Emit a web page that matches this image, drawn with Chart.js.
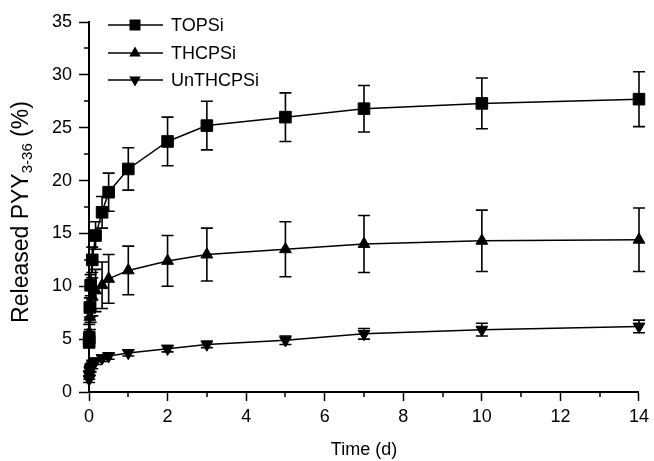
<!DOCTYPE html>
<html>
<head>
<meta charset="utf-8">
<script src="https://cdn.jsdelivr.net/npm/chart.js@4.4.0/dist/chart.umd.min.js"></script>
<style>
  html, body { margin: 0; padding: 0; background: #fff; }
</style>
</head>
<body>
<canvas id="chartContainer" width="654" height="461"></canvas>
<script>
"use strict";

// 1: data
// release time in days
let times = [0.003, 0.007, 0.021, 0.042, 0.083, 0.167, 0.333, 0.5, 1, 2, 3, 5, 7, 10, 14];

let topsi     = [4.7, 5.1, 8.0, 10.1, 12.5, 14.8, 17.0, 18.9, 21.1, 23.7, 25.2, 26.0, 26.8, 27.3, 27.7];
let topsiErr  = [0.5, 0.6, 0.9, 1.0, 1.2, 1.3, 1.5, 1.8, 2.0, 2.3, 2.3, 2.3, 2.2, 2.4, 2.6];

let thcpsi    = [4.9, 5.6, 7.1, 8.1, 9.0, 9.6, 10.1, 10.7, 11.5, 12.4, 13.0, 13.5, 14.0, 14.3, 14.4];
let thcpsiErr = [0.6, 0.8, 1.2, 1.5, 1.8, 2.0, 2.2, 2.3, 2.3, 2.4, 2.5, 2.6, 2.7, 2.9, 3.0];

let unthcpsi    = [1.2, 1.6, 2.0, 2.3, 2.6, 2.9, 3.2, 3.4, 3.7, 4.1, 4.5, 4.9, 5.5, 5.9, 6.2];
let unthcpsiErr = [0.3, 0.4, 0.4, 0.4, 0.4, 0.3, 0.3, 0.3, 0.3, 0.3, 0.3, 0.4, 0.5, 0.6, 0.6];

let xTicks = [0, 2, 4, 6, 8, 10, 12, 14];
let yTicks = [0, 5, 10, 15, 20, 25, 30, 35];

const FONT = "'Liberation Sans', Arial, sans-serif";

// 2: prepare data for chart
function toPoints(values) {
  return values.map((v, i) => ({ x: times[i], y: v }));
}

function drawMarker(ctx, style, x, y) {
  ctx.beginPath();
  if (style === 'square') {
    ctx.rect(x - 5.5, y - 5.5, 11, 11);
  } else if (style === 'up') {
    ctx.moveTo(x, y - 6.5);
    ctx.lineTo(x + 5.8, y + 3.5);
    ctx.lineTo(x - 5.8, y + 3.5);
    ctx.closePath();
  } else {
    ctx.moveTo(x, y + 6.5);
    ctx.lineTo(x + 5.8, y - 3.5);
    ctx.lineTo(x - 5.8, y - 3.5);
    ctx.closePath();
  }
  ctx.fill();
}

// error bars, minor ticks, legend and y title
const extras = {
  id: 'extras',
  beforeDatasetsDraw(chart) {
    const ctx = chart.ctx;
    const xs = chart.scales.x, ys = chart.scales.y;
    ctx.save();
    ctx.strokeStyle = '#000';
    ctx.lineWidth = 1.6;
    chart.data.datasets.forEach(ds => {
      ds.errors.forEach((e, i) => {
        const px = xs.getPixelForValue(times[i]);
        const top = ys.getPixelForValue(ds.data[i].y + e);
        const bot = ys.getPixelForValue(ds.data[i].y - e);
        ctx.beginPath();
        ctx.moveTo(px, top); ctx.lineTo(px, bot);
        ctx.moveTo(px - 6, top); ctx.lineTo(px + 6, top);
        ctx.moveTo(px - 6, bot); ctx.lineTo(px + 6, bot);
        ctx.stroke();
      });
    });
    ctx.restore();
  },
  afterDraw(chart) {
    const ctx = chart.ctx;
    const xs = chart.scales.x, ys = chart.scales.y;
    const area = chart.chartArea;
    ctx.save();
    ctx.strokeStyle = '#000';
    ctx.fillStyle = '#000';
    ctx.lineWidth = 1.5;
    // minor ticks
    ctx.beginPath();
    for (let v = 1; v < 14; v += 2) {
      const px = Math.round(xs.getPixelForValue(v));
      ctx.moveTo(px, area.bottom); ctx.lineTo(px, area.bottom + 5);
    }
    for (let v = 2.5; v < 35; v += 5) {
      const py = Math.round(ys.getPixelForValue(v));
      ctx.moveTo(area.left, py); ctx.lineTo(area.left - 5, py);
    }
    ctx.stroke();

    // legend
    const rows = [25, 53, 80];
    chart.data.datasets.forEach((ds, i) => {
      ctx.lineWidth = 1.5;
      ctx.beginPath();
      ctx.moveTo(108, rows[i]); ctx.lineTo(163, rows[i]);
      ctx.stroke();
      drawMarker(ctx, ds.marker, 135, rows[i]);
      ctx.font = '18px ' + FONT;
      ctx.textBaseline = 'middle';
      ctx.textAlign = 'left';
      ctx.fillText(ds.label, 171, rows[i] + 1);
    });

    // y axis title with subscript
    ctx.translate(22, 212);
    ctx.rotate(-Math.PI / 2);
    const parts = [
      { t: 'Released PYY', f: '23px ' + FONT, dy: 0 },
      { t: '3-36', f: '15px ' + FONT, dy: 6 },
      { t: ' (%)', f: '23px ' + FONT, dy: 0 }
    ];
    let total = 0;
    parts.forEach(p => { ctx.font = p.f; p.w = ctx.measureText(p.t).width; total += p.w; });
    let cx = -total / 2;
    ctx.textBaseline = 'middle';
    ctx.textAlign = 'left';
    parts.forEach(p => {
      ctx.font = p.f;
      ctx.fillText(p.t, cx, p.dy);
      cx += p.w;
    });
    ctx.restore();
  }
};

// 3: create and append the chart
function appendChart() {
  let chartContainer = document.getElementById('chartContainer');
  let common = {
    borderColor: '#000',
    backgroundColor: '#000',
    pointBackgroundColor: '#000',
    pointBorderColor: '#000',
    borderWidth: 1.5,
    pointBorderWidth: 1,
    tension: 0,
    clip: false
  };
  new Chart(chartContainer, {
    type: 'line',
    data: {
      datasets: [
        Object.assign({}, common, {
          label: 'TOPSi', data: toPoints(topsi), errors: topsiErr, marker: 'square',
          pointStyle: 'rect', pointRadius: 8.2
        }),
        Object.assign({}, common, {
          label: 'THCPSi', data: toPoints(thcpsi), errors: thcpsiErr, marker: 'up',
          pointStyle: 'triangle', pointRadius: 6.8
        }),
        Object.assign({}, common, {
          label: 'UnTHCPSi', data: toPoints(unthcpsi), errors: unthcpsiErr, marker: 'down',
          pointStyle: 'triangle', pointRotation: 180, pointRadius: 6.8
        })
      ]
    },
    options: {
      responsive: false,
      animation: false,
      devicePixelRatio: 1,
      layout: { padding: { top: 22, right: 14, left: 0, bottom: 0 } },
      plugins: { legend: { display: false }, tooltip: { enabled: false } },
      scales: {
        x: {
          type: 'linear', min: 0, max: 14,
          afterBuildTicks: s => { s.ticks = xTicks.map(v => ({ value: v })); },
          afterFit: s => { s.height = 69; },
          ticks: { color: '#000', font: { family: FONT, size: 18 }, padding: 5, maxRotation: 0 },
          grid: { drawOnChartArea: false, drawTicks: true, tickLength: 9, tickColor: '#000', tickWidth: 1.5 },
          border: { display: true, color: '#000', width: 2 },
          title: { display: true, text: 'Time (d)', color: '#000', font: { family: FONT, size: 18 }, padding: { top: 2, bottom: 0 } }
        },
        y: {
          type: 'linear', min: 0, max: 35,
          afterBuildTicks: s => { s.ticks = yTicks.map(v => ({ value: v })); },
          afterFit: s => { s.width = 89; },
          ticks: { color: '#000', font: { family: FONT, size: 18 }, padding: 7 },
          grid: { drawOnChartArea: false, drawTicks: true, tickLength: 10, tickColor: '#000', tickWidth: 1.5 },
          border: { display: true, color: '#000', width: 2 }
        }
      }
    },
    plugins: [extras]
  });
}

appendChart();
</script>
</body>
</html>
